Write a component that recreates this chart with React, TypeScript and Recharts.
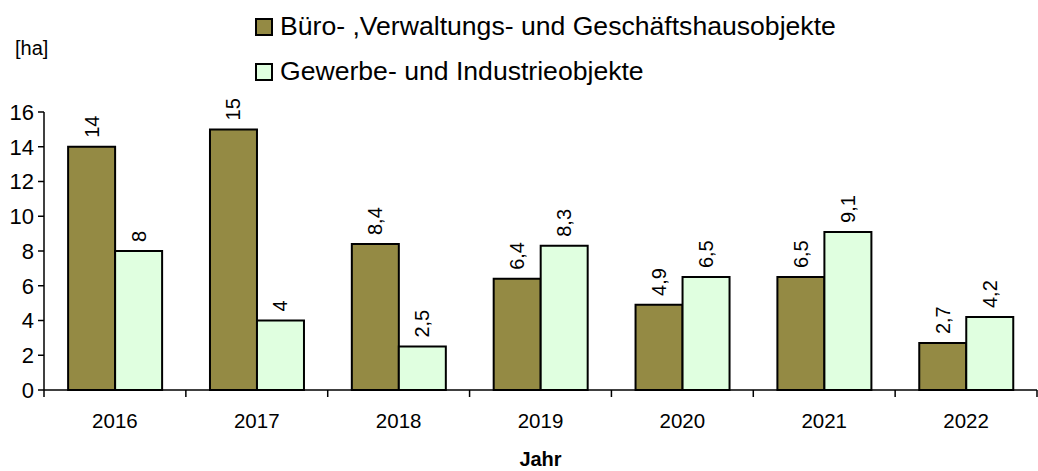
import React from 'react';
import { BarChart, Bar, XAxis, YAxis, Legend, LabelList } from 'recharts';

const years = ['2016', '2017', '2018', '2019', '2020', '2021', '2022'];
const bueroValues = [14, 15, 8.4, 6.4, 4.9, 6.5, 2.7];
const gewerbeValues = [8, 4, 2.5, 8.3, 6.5, 9.1, 4.2];
const yTicks = [0, 2, 4, 6, 8, 10, 12, 14, 16];
const seriesNames = ['Büro- ,Verwaltungs- und Geschäftshausobjekte', 'Gewerbe- und Industrieobjekte'];
const seriesColors = ['#948A44', '#E0FFE0'];

const data = years.map((y, i) => ({ year: y, buero: bueroValues[i], gewerbe: gewerbeValues[i] }));

const FONT = '"Liberation Sans", Arial, sans-serif';

const fmt = (v: number) => String(v).replace('.', ',');

const renderBarLabel = (props: any) => {
  const { x, y, width, value } = props;
  const cx = Number(x) + Number(width) / 2;
  const ty = Number(y) - 9;
  return (
    <text
      x={cx}
      y={ty}
      transform={`rotate(-90 ${cx} ${ty})`}
      textAnchor="start"
      dominantBaseline="central"
      fontSize={20}
      fontFamily={FONT}
      fill="#000"
    >
      {fmt(Number(value))}
    </text>
  );
};

const XTick = (props: any) => {
  const { x, y, payload, index } = props;
  const off = payload && payload.offset != null ? payload.offset : 71;
  const axisY = Number(y) - 8;
  return (
    <g>
      <line x1={x - off} x2={x - off} y1={axisY} y2={axisY + 7} stroke="#000" strokeWidth={1.5} />
      {index === years.length - 1 && (
        <line x1={x + off} x2={x + off} y1={axisY} y2={axisY + 7} stroke="#000" strokeWidth={1.5} />
      )}
      <text x={x} y={axisY + 38} textAnchor="middle" fontSize={20.5} fontFamily={FONT} fill="#000">
        {payload.value}
      </text>
    </g>
  );
};

const LegendContent = () => (
  <div style={{ fontFamily: FONT, fontSize: 26.6, color: '#000', lineHeight: '45px' }}>
    {seriesNames.map((n, i) => (
      <div key={n} style={{ display: 'flex', alignItems: 'center', height: 45, whiteSpace: 'nowrap' }}>
        <span
          style={{
            display: 'inline-block',
            width: 14,
            height: 14,
            border: '2px solid #000',
            background: seriesColors[i],
            marginRight: 7,
          }}
        />
        <span>{n}</span>
      </div>
    ))}
  </div>
);

export default function App() {
  return (
    <div style={{ position: 'absolute', left: 0, top: 0, width: 1038, height: 471, background: '#fff' }}>
      <BarChart
        width={1038}
        height={471}
        data={data}
        margin={{ top: 112, right: 1, left: 0, bottom: 0 }}
        barCategoryGap="17%"
        barGap={0}
      >
        <XAxis
          dataKey="year"
          height={81}
          tickLine={false}
          axisLine={{ stroke: '#000', strokeWidth: 1.5 }}
          tick={<XTick />}
          interval={0}
          label={{
            content: (p: any) => (
              <text
                x={p.viewBox.x + p.viewBox.width / 2}
                y={466}
                textAnchor="middle"
                fontSize={20}
                fontWeight="bold"
                fontFamily={FONT}
                fill="#000"
              >
                Jahr
              </text>
            ),
          }}
        />
        <YAxis
          width={44}
          domain={[0, 16]}
          ticks={yTicks}
          interval={0}
          tickSize={6}
          tickLine={{ stroke: '#000', strokeWidth: 1.5 }}
          axisLine={{ stroke: '#000', strokeWidth: 1.5 }}
          tick={{ fill: '#000', fontSize: 22, fontFamily: FONT }}
          tickMargin={4}
          label={{
            content: () => (
              <text x={15} y={55} fontSize={20} fontFamily={FONT} fill="#000">
                [ha]
              </text>
            ),
          }}
        />
        <Legend
          layout="vertical"
          align="center"
          verticalAlign="middle"
          wrapperStyle={{ top: 4, left: 255, width: 770, height: 95 }}
          content={<LegendContent />}
        />
        <Bar dataKey="buero" name={seriesNames[0]} fill={seriesColors[0]} stroke="#000" strokeWidth={2} isAnimationActive={false}>
          <LabelList dataKey="buero" content={renderBarLabel} />
        </Bar>
        <Bar dataKey="gewerbe" name={seriesNames[1]} fill={seriesColors[1]} stroke="#000" strokeWidth={2} isAnimationActive={false}>
          <LabelList dataKey="gewerbe" content={renderBarLabel} />
        </Bar>
      </BarChart>
    </div>
  );
}
